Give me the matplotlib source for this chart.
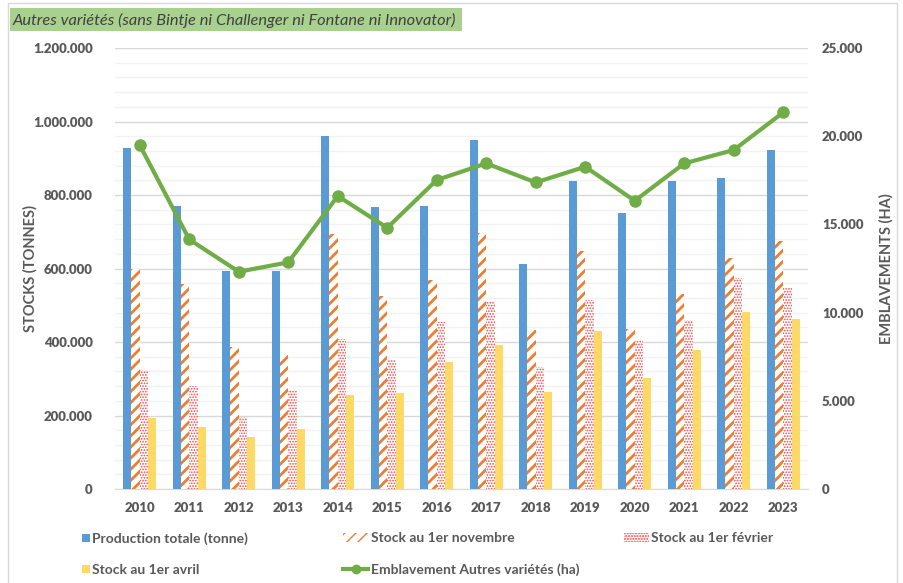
import numpy as np
import matplotlib
matplotlib.use("Agg")
import matplotlib.pyplot as plt
from matplotlib.patches import Patch, Rectangle
from matplotlib.lines import Line2D
from matplotlib.ticker import FuncFormatter, MultipleLocator

# Data
years = ["2010", "2011", "2012", "2013", "2014", "2015", "2016",
         "2017", "2018", "2019", "2020", "2021", "2022", "2023"]
production = [928000, 770000, 593000, 593000, 960000, 767000, 771000,
              950000, 612000, 839000, 750000, 839000, 845000, 922000]
stock_nov = [600000, 558000, 386000, 365000, 694000, 526000, 569000,
             696000, 433000, 648000, 435000, 531000, 629000, 675000]
stock_fev = [324000, 281000, 197000, 269000, 408000, 351000, 455000,
             512000, 333000, 514000, 405000, 460000, 573000, 549000]
stock_avr = [194000, 168000, 142000, 162000, 256000, 260000, 346000,
             392000, 265000, 430000, 303000, 378000, 483000, 462000]
emblavement = [19500, 14150, 12320, 12850, 16610, 14810, 17520,
               18460, 17380, 18270, 16340, 18460, 19220, 21350]

labels = ["Production totale (tonne)", "Stock au 1er novembre",
          "Stock au 1er février", "Stock au 1er avril",
          "Emblavement Autres variétés (ha)"]
title = "Autres variétés (sans Bintje ni Challenger ni Fontane ni Innovator)"

BLUE = "#5b9bd5"
ORANGE = "#ed7d31"
RED = "#ff4040"
YELLOW = "#ffd966"
GREEN = "#70ad47"
TXT = "#595959"

plt.rcParams["font.family"] = ["Lato", "DejaVu Sans"]


def dot_fmt(v, pos):
    return f"{int(round(v)):,}".replace(",", ".")


fig = plt.figure(figsize=(9.04, 5.83), dpi=100)
ax = fig.add_axes([0.1272, 0.1612, 0.7666, 0.7564])
ax2 = ax.twinx()

x = np.arange(len(years))
w = 0.167
ax.bar(x - 1.5 * w, production, w, color=BLUE, zorder=3)
with plt.rc_context({"hatch.linewidth": 2.0}):
    ax.bar(x - 0.5 * w, stock_nov, w, facecolor="white", edgecolor=ORANGE,
           hatch="///", linewidth=0, zorder=3)
    nov_handle = Patch(facecolor="white", edgecolor=ORANGE, hatch="///", linewidth=0)
with plt.rc_context({"hatch.linewidth": 0.8}):
    ax.bar(x + 0.5 * w, stock_fev, w, facecolor="white", edgecolor=RED,
           hatch="......", linewidth=0, zorder=3)
    fev_handle = Patch(facecolor="white", edgecolor=RED, hatch="......", linewidth=0)
ax.bar(x + 1.5 * w, stock_avr, w, color=YELLOW, zorder=3)

ax2.plot(x, emblavement, color=GREEN, lw=3, marker="o", ms=8, zorder=5)

ax.set_xlim(-0.5, len(years) - 0.5)
ax.set_ylim(0, 1200000)
ax2.set_ylim(0, 25000)
ax.yaxis.set_major_locator(MultipleLocator(200000))
ax.yaxis.set_minor_locator(MultipleLocator(40000))
ax2.yaxis.set_major_locator(MultipleLocator(5000))
ax.yaxis.set_major_formatter(FuncFormatter(dot_fmt))
ax2.yaxis.set_major_formatter(FuncFormatter(dot_fmt))

ax.grid(axis="y", which="major", color="#d9d9d9", lw=1, zorder=0)
ax.grid(axis="y", which="minor", color="#f2f2f2", lw=1, zorder=0)
ax.set_axisbelow(True)

for a in (ax, ax2):
    for s in a.spines.values():
        s.set_visible(False)
    a.tick_params(which="both", length=0, colors=TXT, labelsize=9.5)
    for t in a.get_xticklabels() + a.get_yticklabels():
        t.set_fontweight("heavy")
ax.spines["bottom"].set_visible(True)
ax.spines["bottom"].set_color("#d9d9d9")
ax.tick_params(axis="y", pad=16)
ax2.tick_params(axis="y", pad=10)
ax.tick_params(axis="x", pad=9)
ax.set_xticks(x)
ax.set_xticklabels(years, fontweight="heavy")

ax.set_ylabel("STOCKS (TONNES)", color=TXT, fontsize=10.5, fontweight="bold")
ax2.set_ylabel("EMBLAVEMENTS (HA)", color=TXT, fontsize=10.5, fontweight="bold")
ax.yaxis.set_label_coords(-0.111, 0.5)
ax2.yaxis.set_label_coords(1.1025, 0.5)

# title box
fig.patches.append(Rectangle((10 / 904, 1 - 31 / 583), 452 / 904, 23 / 583,
                             transform=fig.transFigure, facecolor="#a9d18e",
                             edgecolor="none"))
fig.text(13 / 904, 1 - 20 / 583, title, style="italic", fontsize=11.8,
         color="#404040", va="center", ha="left")

# outer frame
fig.patches.append(Rectangle((8 / 904, -0.05), 889 / 904, 1.05 - 3 / 583,
                             transform=fig.transFigure, facecolor="none",
                             edgecolor="#d9d9d9", lw=1))

handles = [
    Patch(facecolor=BLUE),
    nov_handle,
    fev_handle,
    Patch(facecolor=YELLOW),
    Line2D([], [], color=GREEN, lw=3, marker="o", ms=6),
]
cols = [([0, 3], 70, 0.55), ([1, 4], 331, 1.8), ([2], 611, 1.8)]
for idx, px, hl in cols:
    fig.legend([handles[i] for i in idx], [labels[i] for i in idx],
               loc="upper left", bbox_to_anchor=(px / 904, 1 - 520 / 583),
               frameon=False, ncol=1, handlelength=hl, handleheight=0.55,
               handletextpad=0.15, labelspacing=1.35,
               prop={"weight": "bold", "size": 10}, labelcolor=TXT)

fig.savefig("out.png", dpi=100)
